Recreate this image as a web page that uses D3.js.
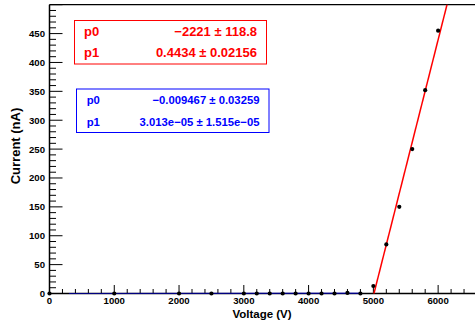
<!DOCTYPE html>
<html>
  <head>
    <script src="https://d3js.org/d3.v7.min.js"></script>
    <style>
      body { margin: 0px; background: #fff; }
      text { font-family: "Liberation Sans", Arial, sans-serif; font-weight: bold; }
    </style>
  </head>
  <body>
    <svg width="475" height="322"></svg>
    <script>
      // measured points
      var voltage = [0, 1000, 2000, 2500, 3000, 3200, 3400, 3600, 3800, 4000, 4200, 4400, 4600, 4800, 5000, 5200, 5400, 5600, 5800, 6000];
      var current = [0, 0, 0, 0, 0, 0, 0, 0, 0, 0, 0, 0, 1, 0, 13, 85, 150, 250, 352, 455];

      // fit results: [p0, p1] and their errors
      var highFit = [-2221, 0.4434];
      var highErr = ["118.8", "0.02156"];
      var highLabel = ["\u22122221", "0.4434"];
      var lowFit = [-0.009467, 3.013e-05];
      var lowLabel = ["\u22120.009467", "3.013e\u221205"];
      var lowErr = ["0.03259", "1.515e\u221205"];
      var highRange = [5000, 6600];
      var lowRange = [300, 4800];

      var xTicks = [0, 1000, 2000, 3000, 4000, 5000, 6000];
      var yTicks = [0, 50, 100, 150, 200, 250, 300, 350, 400, 450];

      var svg = d3.select("svg");
      var x = d3.scaleLinear().domain([0, 6600]).range([49.5, 477]);
      var y = d3.scaleLinear().domain([0, 500]).range([293.5, 4.7]);

      svg.append("clipPath").attr("id", "frame")
        .append("rect")
        .attr("x", x(0)).attr("y", y(500))
        .attr("width", x(6600) - x(0)).attr("height", y(0) - y(500));

      // frame top
      svg.append("line")
        .attr("x1", x(0)).attr("x2", x(6600))
        .attr("y1", y(500)).attr("y2", y(500))
        .style("stroke", "#000").style("stroke-width", 1.2);

      // x ticks (inside, upward)
      var xMinor = d3.range(0, 6601, 200);
      svg.append("g").selectAll("line")
        .data(xMinor)
        .enter().append("line")
        .attr("x1", function(d) { return x(d); })
        .attr("x2", function(d) { return x(d); })
        .attr("y1", y(0))
        .attr("y2", function(d) { return y(0) - (d % 1000 == 0 ? 8.5 : 4.5); })
        .style("stroke", "#000").style("stroke-width", 1);

      svg.append("g").selectAll("text")
        .data(xTicks)
        .enter().append("text")
        .attr("x", function(d) { return x(d); })
        .attr("y", 304)
        .attr("text-anchor", "middle")
        .style("font-size", "9.6px")
        .text(function(d) { return d; });

      // y ticks (inside, rightward)
      var yMinor = d3.range(0, 501, 10);
      svg.append("g").selectAll("line")
        .data(yMinor)
        .enter().append("line")
        .attr("y1", function(d) { return y(d); })
        .attr("y2", function(d) { return y(d); })
        .attr("x1", x(0))
        .attr("x2", function(d) { return x(0) + (d % 50 == 0 ? 13 : 6.5); })
        .style("stroke", "#000").style("stroke-width", 1);

      svg.append("g").selectAll("text")
        .data(yTicks)
        .enter().append("text")
        .attr("x", 45)
        .attr("y", function(d) { return y(d) + 3.4; })
        .attr("text-anchor", "end")
        .style("font-size", "9.6px")
        .text(function(d) { return d; });

      // axis lines
      svg.append("line")
        .attr("x1", x(0)).attr("x2", x(6600))
        .attr("y1", y(0)).attr("y2", y(0))
        .style("stroke", "#000").style("stroke-width", 1.5);
      svg.append("line")
        .attr("x1", x(0)).attr("x2", x(0))
        .attr("y1", y(0)).attr("y2", y(500))
        .style("stroke", "#000").style("stroke-width", 1.5);

      // axis titles
      svg.append("text")
        .attr("x", 262)
        .attr("y", 317.5)
        .attr("text-anchor", "middle")
        .style("font-size", "11.5px")
        .text("Voltage (V)");
      svg.append("text")
        .attr("transform", "translate(20,146) rotate(-90)")
        .attr("text-anchor", "middle")
        .style("font-size", "13px")
        .text("Current (nA)");

      // fit lines
      var line = d3.line()
        .x(function(d) { return x(d[0]); })
        .y(function(d) { return y(d[1]); });
      function fitPoints(p, r) {
        return [r[0], r[1]].map(function(v) { return [v, p[0] + p[1] * v]; });
      }
      var plot = svg.append("g").attr("clip-path", "url(#frame)");
      plot.append("path")
        .datum(fitPoints(lowFit, lowRange))
        .attr("d", line)
        .style("fill", "none").style("stroke", "#0000ff").style("stroke-width", 1.2);
      plot.append("path")
        .datum(fitPoints(highFit, highRange))
        .attr("d", line)
        .style("fill", "none").style("stroke", "#ff0000").style("stroke-width", 1.5);

      // points
      svg.append("g").selectAll("circle")
        .data(voltage)
        .enter().append("circle")
        .attr("cx", function(d) { return x(d); })
        .attr("cy", function(d, i) { return y(current[i]); })
        .attr("r", 2.1)
        .style("fill", "#000");

      // stat boxes
      function statBox(box, color, size, rows, vals, errs, left, right) {
        svg.append("rect")
          .attr("x", box[0]).attr("y", box[1])
          .attr("width", box[2]).attr("height", box[3])
          .style("fill", "#fff").style("stroke", color).style("stroke-width", 1);
        var g = svg.append("g").style("fill", color).style("font-size", size + "px");
        ["p0", "p1"].forEach(function(name, i) {
          g.append("text").attr("x", left).attr("y", rows[i]).text(name);
          g.append("text").attr("x", right).attr("y", rows[i])
            .attr("text-anchor", "end")
            .text(vals[i] + " \u00b1 " + errs[i]);
        });
      }
      statBox([74.5, 20.5, 192, 43.5], "#ff0000", 13, [36, 57.3], highLabel, highErr, 84, 257);
      statBox([76.5, 89, 192.5, 43.5], "#0000ff", 11.3, [104, 126], lowLabel, lowErr, 86.7, 259.5);
    </script>
  </body>
</html>
